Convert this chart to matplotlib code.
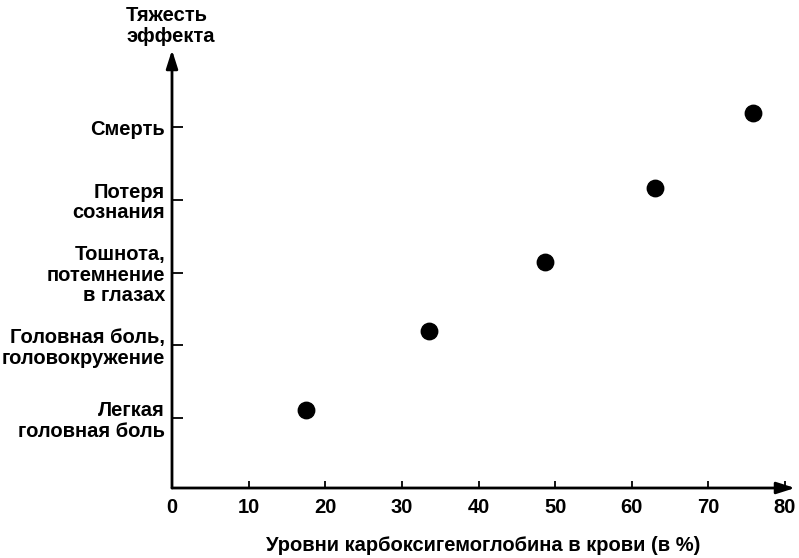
import matplotlib
matplotlib.use('Agg')
from matplotlib import pyplot as plt

# уровни тяжести (снизу вверх)
urovni = ['Легкая\nголовная боль',
          'Головная боль,\nголовокружение',
          'Тошнота,\nпотемнение\nв глазах',
          'Потеря\nсознания',
          'Смерть']
pozicii = [1, 2, 3, 4, 5]

# значения точек
karboksi = [17.5, 33.6, 48.7, 63.0, 75.8]  # % карбоксигемоглобина
tyazhest = [1.11, 2.2, 3.14, 4.16, 5.19]

x_tiki = [0, 10, 20, 30, 40, 50, 60, 70, 80]

plt.rcParams['font.family'] = ['Liberation Sans', 'DejaVu Sans']
plt.rcParams['font.weight'] = 'bold'
fs = 14.5

fig = plt.figure(figsize=(7.99, 5.58), dpi=100)
ax = fig.add_axes([172 / 799, 1 - 488 / 558, 623 / 799, 438 / 558])

ax.scatter(karboksi, tyazhest, s=140, color='black', zorder=3)

ax.set_xlim(0, 81.3)
ax.set_ylim(0.04, 6.06)

for s in ax.spines.values():
    s.set_visible(False)

# оси со стрелками
strelka = dict(arrowstyle='-|>,head_length=1.1,head_width=0.35',
               lw=2.0, color='black', shrinkA=0, shrinkB=0)
ax.annotate('', xy=(0, 1), xytext=(0, 0), xycoords='axes fraction', arrowprops=strelka)
ax.annotate('', xy=(1, 0), xytext=(0, 0), xycoords='axes fraction', arrowprops=strelka)

ax.set_xticks(x_tiki)
ax.set_xticklabels([str(v) for v in x_tiki])
ax.set_yticks(pozicii)
ax.set_yticklabels(urovni, ha='right', multialignment='right', linespacing=1.1)

ax.tick_params(axis='x', direction='in', length=5, width=1.3, pad=7, labelsize=fs)
ax.tick_params(axis='y', direction='in', length=8, width=1.3, pad=5, labelsize=fs)

ax.set_xlabel('Уровни карбоксигемоглобина в крови (в %)', fontsize=fs,
              fontweight='bold', labelpad=14)

fig.text(126 / 799, 1 - 26 / 558, 'Тяжесть\nэффекта', ha='left', va='center',
         fontsize=fs, fontweight='bold', linespacing=1.1)

fig.savefig('out.png', dpi=100)
